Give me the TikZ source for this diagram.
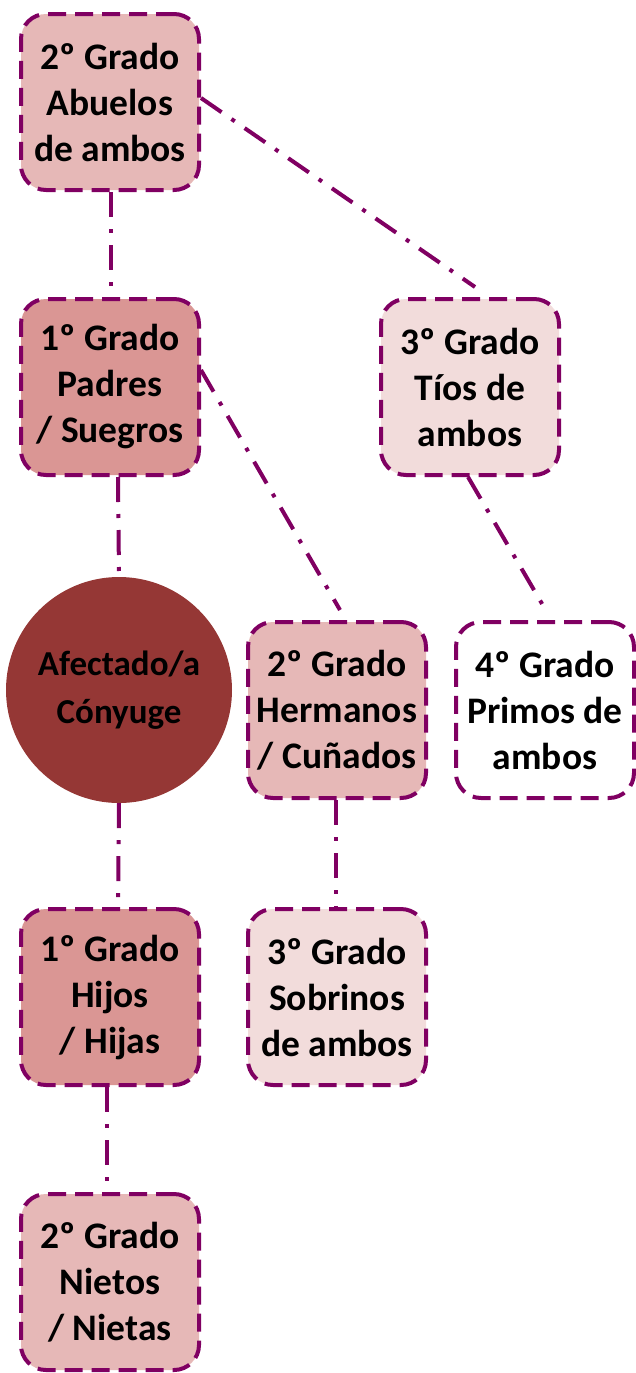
\documentclass[tikz,border=0pt]{standalone}
\usepackage{fontspec}
\setmainfont{Carlito}
\definecolor{linec}{RGB}{128,0,98}
\definecolor{fmid}{RGB}{230,184,183}
\definecolor{fdark}{RGB}{218,150,148}
\definecolor{flight}{RGB}{242,220,219}
\definecolor{fcirc}{RGB}{149,55,53}
\begin{document}
\begin{tikzpicture}[x=1pt,y=-1pt,
  box/.style={draw=linec, line width=4pt, dash pattern=on 18pt off 9pt,
    rounded corners=25pt, minimum width=178pt, minimum height=176pt,
    align=center, inner sep=0pt,
    font=\fontsize{37.5}{46}\selectfont\bfseries},
  circ/.style={circle, fill=fcirc, minimum size=226pt, inner sep=0pt,
    align=center, font=\fontsize{35}{48}\selectfont\bfseries},
  link/.style={draw=linec, line width=4pt, dash pattern=on 25pt off 12pt on 4pt off 12pt}]
\useasboundingbox (0,0) rectangle (636,1373);
\node[box, fill=fmid] (abuelos) at (110,102) {2º Grado\\Abuelos\\de ambos};
\node[box, fill=fdark] (padres) at (110,387) {1º Grado\\Padres\\/ Suegros};
\node[box, fill=flight] (tios) at (470,387) {3º Grado\\Tíos de\\ambos};
\node[circ] (afectado) at (119,690) {Afectado/a\\Cónyuge};
\node[box, fill=fmid] (hermanos) at (337,710) {2º Grado\\Hermanos\\/ Cuñados};
\node[box, fill=white] (primos) at (545,710) {4º Grado\\Primos de\\ambos};
\node[box, fill=fdark] (hijos) at (110,997) {1º Grado\\Hijos\\/ Hijas};
\node[box, fill=flight] (sobrinos) at (337,997) {3º Grado\\Sobrinos\\de ambos};
\node[box, fill=fmid] (nietos) at (110,1282) {2º Grado\\Nietos\\/ Nietas};
\draw[link] ([xshift=1pt]abuelos.south) -- ([xshift=1pt]padres.north);
\draw[link] ([yshift=4pt]abuelos.east) -- ([xshift=5pt,yshift=10pt]tios.north);
\draw[link] ([yshift=17pt]padres.east) -- ([xshift=3pt,yshift=10pt]hermanos.north);
\draw[link] ([xshift=8pt]padres.south) -- (afectado.north);
\draw[link] ([xshift=-2pt]tios.south) -- ([xshift=3pt,yshift=6pt]primos.north);
\draw[link] (afectado.south) -- ([xshift=8pt]hijos.north);
\draw[link] ([xshift=-1pt]hermanos.south) -- ([xshift=-1pt]sobrinos.north);
\draw[link] ([xshift=-3pt]hijos.south) -- ([xshift=-3pt]nietos.north);
\end{tikzpicture}
\end{document}
